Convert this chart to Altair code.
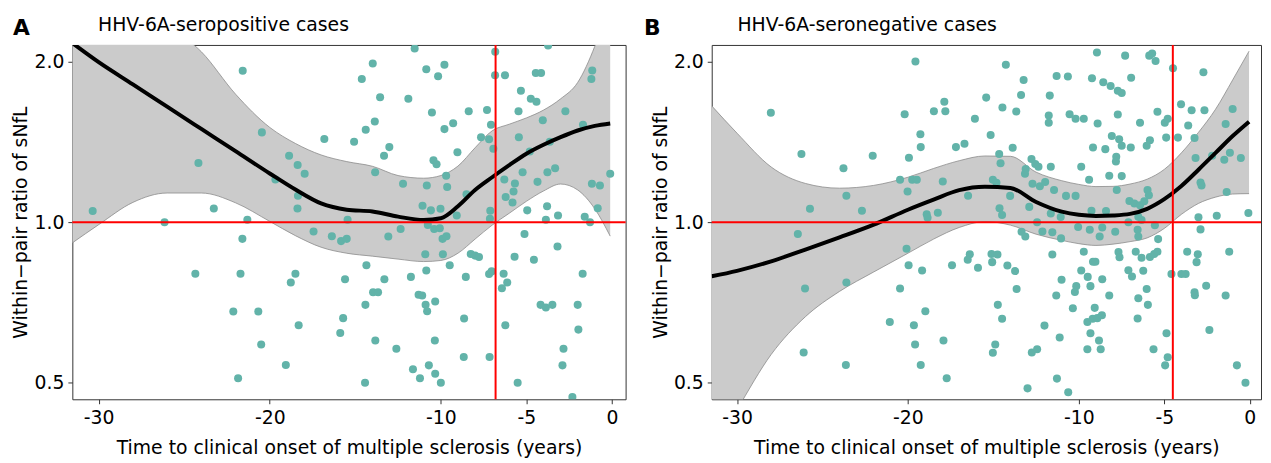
import altair as alt
import pandas as pd

FONT = "DejaVu Sans"
TEAL = "#62b3a9"

# ---------------- data ----------------
# Panel A: HHV-6A-seropositive cases (time to onset, within-pair sNfL ratio)
A_X = [-21.58, -20.46, -16.81, -24.17, -18.87, -18.37, -17.96, -19.67, -18.35, -18.38,
       -30.35, -23.27, -26.15, -21.31, -21.6, -17.44, -16.37, -15.83, -15.5, -15.45,
       -24.35, -21.71, -18.5, -18.77, -15.6, -22.13, -20.67, -18.31, -15.71, -15.88,
       -20.5, -19.06, -21.85,
       -11.53, -6.82, -3.73, -13.98, -10.85, -9.79, -10.16, -14.62, -6.83, -6.25,
       -4.45, -4.14, -1.15, -1.2, -13.55, -11.9, -5.32, -4.74, -4.41, -10.52,
       -8.37, -7.3, -5.46, -2.72, -13.86, -14.39, -9.28, -9.79, -7.07, -4.04,
       -1.69, -15.07, -13.01, -13.32, -7.65, -7.18, -5.44, -6.93, -9.03, -10.43,
       -10.25, -4.8, -3.63, -13.84, -12.21, -10.82, -9.69, -9.63, -6.29, -5.67,
       -5.22, -4.35, -3.77, -3.32, -1.17, -0.7, -0.1, -8.5, -6.21, -5.75,
       -5.81, -11.07, -10.58, -10.02, -9.07, -7.11, -4.95, -3.79, -3.15, -3.86,
       -1.59, -1.28, -0.83, -7.13,
       -10.76, -10.39, -10.06, -12.35, -13.07, -9.9, -9.67, -5.11, -3.18, -10.91,
       -9.88, -8.25, -8.0, -7.77, -5.69, -4.56, -14.35, -9.48, -10.85, -11.75,
       -13.3, -8.54, -7.18, -7.03, -6.33, -6.12, -6.43, -1.71, -13.96, -13.67,
       -11.3, -11.09, -14.41, -10.89, -10.8, -10.33, -4.17, -3.86, -3.48, -2.0,
       -8.64, -6.23, -1.96, -13.83, -12.6, -10.35, -2.83, -8.66, -7.15, -2.89,
       -11.63, -10.7, -11.22, -10.33, -10.0, -14.43, -5.51, -2.31]
A_Y = [1.925, 1.475, 1.434, 1.292, 1.333, 1.281, 1.233, 1.203, 1.122, 1.062,
       1.05, 1.062, 1.0, 1.011, 0.931, 0.961, 0.942, 0.922, 0.931, 1.011,
       0.801, 0.801, 0.801, 0.771, 0.782, 0.68, 0.68, 0.641, 0.661, 0.62,
       0.59, 0.54, 0.51,
       2.12, 2.09, 2.146, 1.987, 1.937, 1.976, 1.879, 1.858, 1.888, 1.888,
       1.906, 1.906, 1.928, 1.858, 1.716, 1.706, 1.765, 1.706, 1.684, 1.607,
       1.616, 1.625, 1.616, 1.616, 1.546, 1.492, 1.535, 1.496, 1.524, 1.555,
       1.524, 1.416, 1.384, 1.333, 1.444, 1.432, 1.444, 1.374, 1.354, 1.307,
       1.285, 1.358, 1.417, 1.242, 1.181, 1.173, 1.223, 1.165, 1.203, 1.183,
       1.242, 1.191, 1.242, 1.263, 1.181, 1.173, 1.233, 1.129, 1.116, 1.142,
       1.089, 1.074, 1.053, 1.06, 1.03, 1.051, 1.053, 1.072, 1.03, 1.011,
       1.024, 1.0, 1.063, 1.016,
       0.989, 0.972, 0.975, 0.972, 0.941, 0.931, 0.942, 0.951, 0.901, 0.871,
       0.871, 0.872, 0.866, 0.861, 0.862, 0.851, 0.831, 0.831, 0.812, 0.79,
       0.782, 0.79, 0.8, 0.809, 0.801, 0.771, 0.752, 0.801, 0.739, 0.739,
       0.731, 0.729, 0.7, 0.7, 0.681, 0.71, 0.7, 0.692, 0.7, 0.7,
       0.66, 0.641, 0.629, 0.6, 0.579, 0.6, 0.579, 0.559, 0.559, 0.539,
       0.53, 0.539, 0.51, 0.52, 0.5, 0.5, 0.5, 0.47]

A_GRID = [-31.54, -30, -28, -26, -24, -22, -20, -18.5, -17, -15.5, -14, -12.5,
          -11, -10, -9, -8, -7, -6, -5, -4, -3, -2, -1, -0.1]
A_FIT = [2.17, 1.998, 1.815, 1.648, 1.497, 1.36, 1.235, 1.152, 1.085, 1.056, 1.048, 1.025,
         1.01, 1.018, 1.072, 1.15, 1.215, 1.28, 1.345, 1.398, 1.445, 1.487, 1.517, 1.533]
A_HI = [3.6, 3.2, 2.75, 2.35, 2.09, 1.74, 1.507, 1.406, 1.338, 1.30, 1.274, 1.224,
        1.21, 1.224, 1.275, 1.38, 1.485, 1.528, 1.57, 1.624, 1.705, 1.83, 2.14, 2.6]
A_LO = [0.915, 0.99, 1.09, 1.135, 1.135, 1.088, 1.004, 0.944, 0.898, 0.875, 0.864, 0.853,
        0.844, 0.848, 0.875, 0.93, 0.988, 1.04, 1.095, 1.145, 1.18, 1.15, 1.06, 0.942]
A_ONSET = -6.8

# Panel B: HHV-6A-seronegative cases
B_X = [-19.56, -28.02, -20.19, -18.48, -17.87, -17.81, -16.08, -15.42, -19.27, -19.25,
       -17.19, -16.69, -26.23, -22.06, -19.94, -23.77, -20.46, -19.75, -19.48, -17.96,
       -20.02, -23.6, -16.48, -25.73, -22.69, -18.9, -18.85, -18.25, -26.44, -20.08,
       -19.96, -19.17, -17.42, -16.38, -16.5, -15.9, -26.02, -23.6, -20.46, -18.98,
       -21.06, -19.65, -19.58, -17.92, -26.1, -23.63, -19.25, -17.73,
       -8.94, -7.29, -5.88, -5.71, -5.51, -14.27, -4.49, -2.71, -11.3, -10.64,
       -9.23, -6.94, -13.23, -8.57, -8.14, -7.72, -7.49, -13.38, -11.7,
       -14.47, -13.66, -4.02, -3.4, -2.65, -1.0, -5.4, -11.76, -11.76, -10.54,
       -10.19, -9.71, -8.9, -7.72, -6.42, -4.97, -4.8, -3.6, -1.41,
       -15.16, -8.07, -7.64, -7.49, -6.96, -5.84, -6.03, -4.89, -4.2, -3.23,
       -13.87, -9.17, -8.45, -14.66, -14.58, -7.81, -7.83, -12.77, -12.55, -12.36,
       -11.64, -9.86, -13.11, -13.15, -8.22, -7.49, -3.17, -2.2, -1.49, -1.16, -0.52,
       -15.03, -14.82, -9.4, -12.71, -12.28, -11.97, -11.45, -10.75, -10.19, -14.02,
       -7.78, -5.98, -5.9, -7.04, -6.75, -6.42, -6.17, -2.88, -2.82, -1.35,
       -14.64, -14.49, -12.9, -11.64, -11.06, -9.26, -8.41, -7.1, -6.52, -6.33,
       -3.0, -1.93, -0.08, -12.44,
       -13.35, -13.13, -12.13, -11.55, -11.04, -10.04, -9.36, -8.78, -8.63, -7.87,
       -6.56, -6.52, -5.55, -5.36, -2.88, -15.11, -14.76, -15.07, -14.18, -13.73,
       -11.55, -9.71, -9.17, -9.03, -7.68, -7.62, -6.67, -6.33, -5.84, -5.59,
       -5.4, -3.66, -3.04, -3.11, -1.2, -9.86, -9.48, -8.63, -7.1, -6.89,
       -6.23, -4.58, -4.0, -3.75, -11.01, -13.64, -10.15, -10.23, -9.32, -11.32,
       -8.22, -6.03, -3.23, -3.21, -2.55, -1.41, -6.52, -14.74, -10.35, -9.07,
       -5.96, -14.49, -9.5, -9.19, -8.92, -8.65, -6.56, -12.01, -9.32, -4.87,
       -2.36, -11.12, -8.82, -14.89, -15.03, -12.75, -12.44, -9.5, -8.72, -5.63,
       -4.8, -4.95, -0.75, -11.28, -13.0, -10.62, -0.25]
B_Y = [2.004, 1.605, 1.595, 1.616, 1.684, 1.616, 1.564, 1.714, 1.463, 1.384,
       1.384, 1.404, 1.343, 1.333, 1.322, 1.263, 1.202, 1.202, 1.202, 1.193,
       1.142, 1.122, 1.122, 1.06, 1.051, 1.035, 1.02, 1.042, 0.951, 0.892,
       0.831, 0.812, 0.831, 0.871, 0.851, 0.822, 0.751, 0.771, 0.751, 0.681,
       0.65, 0.641, 0.59, 0.6, 0.57, 0.54, 0.54, 0.51,
       2.083, 2.055, 2.055, 2.073, 2.007, 1.976, 1.946, 1.913, 1.882, 1.877,
       1.863, 1.868, 1.85, 1.832, 1.803, 1.766, 1.749, 1.734, 1.729,
       1.642, 1.614, 1.665, 1.623, 1.623, 1.632, 1.612, 1.586, 1.538, 1.595,
       1.564, 1.564, 1.533, 1.593, 1.538, 1.538, 1.564, 1.52, 1.529,
       1.459, 1.452, 1.432, 1.392, 1.382, 1.426, 1.392, 1.442, 1.442, 1.44,
       1.38, 1.382, 1.372, 1.343, 1.291, 1.328, 1.301, 1.315, 1.287, 1.272,
       1.272, 1.272, 1.259, 1.233, 1.223, 1.221, 1.32, 1.333, 1.311, 1.351, 1.32,
       1.202, 1.186, 1.202, 1.181, 1.169, 1.19, 1.15, 1.121, 1.121, 1.121,
       1.15, 1.15, 1.124, 1.097, 1.085, 1.077, 1.095, 1.188, 1.173, 1.14,
       1.063, 1.032, 1.069, 1.039, 1.023, 1.051, 1.05, 1.0, 1.024, 1.01,
       1.022, 1.029, 1.041, 1.0,
       0.96, 0.941, 0.961, 0.958, 0.933, 0.98, 0.968, 0.941, 0.978, 0.96,
       0.968, 0.941, 0.987, 0.93, 0.97, 0.872, 0.87, 0.842, 0.83, 0.81,
       0.87, 0.881, 0.843, 0.843, 0.88, 0.86, 0.881, 0.858, 0.861, 0.872,
       0.881, 0.881, 0.871, 0.842, 0.881, 0.812, 0.79, 0.782, 0.813, 0.791,
       0.811, 0.8, 0.8, 0.8, 0.78, 0.75, 0.759, 0.74, 0.759, 0.729,
       0.729, 0.75, 0.739, 0.73, 0.76, 0.729, 0.72, 0.7, 0.69, 0.691,
       0.7, 0.659, 0.65, 0.659, 0.661, 0.669, 0.66, 0.64, 0.619, 0.619,
       0.628, 0.608, 0.6, 0.59, 0.569, 0.57, 0.578, 0.578, 0.578, 0.578,
       0.558, 0.539, 0.539, 0.509, 0.488, 0.48, 0.5]

B_GRID = [-31.48, -30, -28, -26, -24, -22, -20, -18.5, -17, -15.5, -14, -12.5,
          -11, -10, -9, -8, -7, -6, -5, -4, -3, -2, -1, -0.04]
B_FIT = [0.792, 0.811, 0.845, 0.889, 0.937, 0.99, 1.056, 1.103, 1.149, 1.166, 1.16, 1.092,
         1.047, 1.033, 1.028, 1.03, 1.037, 1.06, 1.105, 1.17, 1.255, 1.35, 1.452, 1.545]
B_HI = [1.654, 1.47, 1.27, 1.183, 1.159, 1.173, 1.215, 1.262, 1.305, 1.332, 1.33, 1.242,
        1.197, 1.178, 1.167, 1.168, 1.18, 1.205, 1.257, 1.35, 1.475, 1.63, 1.85, 2.095]
B_LO = [0.37, 0.445, 0.565, 0.665, 0.742, 0.807, 0.875, 0.93, 0.978, 1.003, 0.988, 0.95,
        0.925, 0.912, 0.905, 0.91, 0.92, 0.935, 0.974, 1.035, 1.085, 1.115, 1.13, 1.132]
B_ONSET = -4.5

TAGS = ["A", "B"]
TITLES = ["HHV-6A-seropositive cases", "HHV-6A-seronegative cases"]
X_TICKS = [-30, -20, -10, -5, 0]
Y_TICKS = [0.5, 1.0, 2.0]
X_TITLE = "Time to clinical onset of multiple sclerosis (years)"
Y_TITLE = "Within\u2212pair ratio of sNfL"
Y_DOMAIN = [0.4655, 2.152]


def panel(px, py, grid, fit, lo, hi, onset, xdom, tag, tag_dx, title, width):
    pts = pd.DataFrame({"t": px, "r": py})
    band = pd.DataFrame({"t": grid, "fit": fit, "lo": lo, "hi": hi})
    xsc = alt.Scale(domain=xdom, nice=False, zero=False)
    ysc = alt.Scale(type="log", domain=Y_DOMAIN, nice=False)
    xax = alt.Axis(values=X_TICKS, labelExpr="'' + datum.value", title=X_TITLE,
                   titlePadding=11, labelFlush=False, labelPadding=5)
    yax = alt.Axis(values=Y_TICKS, format=".1f", title=Y_TITLE, titlePadding=7.3,
                   titleBaseline="alphabetic", labelPadding=4)
    X = alt.X("t:Q", scale=xsc, axis=xax)

    def Y(f):
        return alt.Y(f, type="quantitative", scale=ysc, axis=yax)

    base = alt.Chart(band)
    area = base.mark_area(color="#cbcbcb", opacity=1, interpolate="monotone", clip=True).encode(
        x=X, y=Y("hi"), y2="lo:Q")
    hi_line = base.mark_line(color="#8a8a8a", strokeWidth=0.8, interpolate="monotone",
                             clip=True).encode(x=X, y=Y("hi"))
    lo_line = base.mark_line(color="#8a8a8a", strokeWidth=0.8, interpolate="monotone",
                             clip=True).encode(x=X, y=Y("lo"))
    points = alt.Chart(pts).mark_circle(size=66, color=TEAL, opacity=1, clip=True).encode(
        x=X, y=Y("r"))
    fitline = base.mark_line(color="black", strokeWidth=4, interpolate="monotone",
                             clip=True).encode(x=X, y=Y("fit"))
    vrule = alt.Chart(pd.DataFrame({"t": [onset]})).mark_rule(color="#ff0000", strokeWidth=2).encode(x=X)
    hrule = alt.Chart(pd.DataFrame({"r": [1.0]})).mark_rule(color="#ff0000", strokeWidth=2).encode(y=Y("r"))
    tagc = alt.Chart(pd.DataFrame({"s": [tag]})).mark_text(
        align="left", baseline="alphabetic", font=FONT, fontSize=22, fontWeight="bold",
        color="black").encode(x=alt.value(tag_dx), y=alt.value(-10), text="s:N")
    ttl = alt.Chart(pd.DataFrame({"s": [title]})).mark_text(
        align="left", baseline="alphabetic", font=FONT, fontSize=19,
        color="black").encode(x=alt.value(26), y=alt.value(-14), text="s:N")
    return alt.layer(area, hi_line, lo_line, points, fitline, vrule, hrule, tagc, ttl).properties(
        width=width, height=358)


pa = panel(A_X, A_Y, A_GRID, A_FIT, A_LO, A_HI, A_ONSET, [-31.54, 0.8], TAGS[0], -60, TITLES[0], 559)
pb = panel(B_X, B_Y, B_GRID, B_FIT, B_LO, B_HI, B_ONSET, [-31.48, 0.66], TAGS[1], -68.5, TITLES[1], 555)

chart = alt.hconcat(pa, pb, spacing=16).properties(
    padding={"left": 3, "top": 5, "right": 0, "bottom": 0}
).configure_view(stroke="#333333", strokeWidth=1).configure_axis(
    domain=False, grid=False, tickColor="#333333", tickSize=4.5, tickWidth=1,
    labelFont=FONT, labelFontSize=19, labelColor="black",
    titleFont=FONT, titleFontSize=19, titleFontWeight="normal", titleColor="black"
)

chart.save("out.html", embed_options={"renderer": "svg", "actions": False})
